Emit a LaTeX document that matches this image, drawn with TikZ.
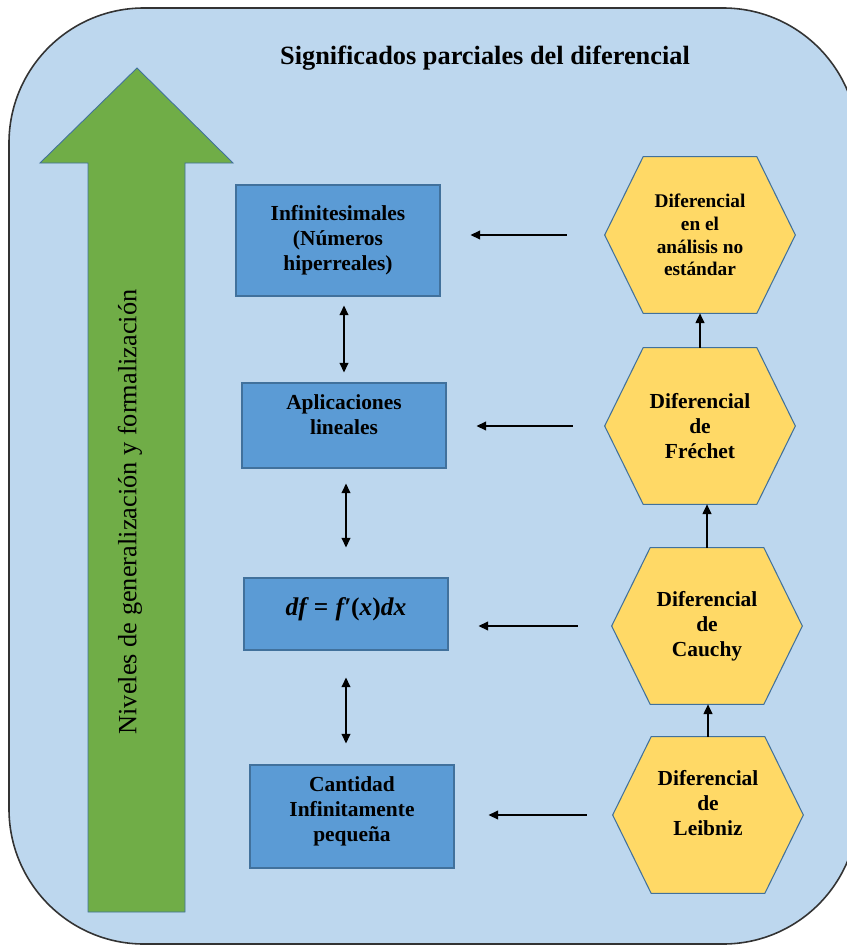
\documentclass[tikz,border=0pt]{standalone}
\usepackage{fontspec}
\setmainfont{Liberation Serif}
\usetikzlibrary{arrows.meta,backgrounds}
\definecolor{fondo}{HTML}{BDD7EE}
\definecolor{caja}{HTML}{5B9BD5}
\definecolor{cajaborde}{HTML}{41719C}
\definecolor{hexa}{HTML}{FFD966}
\definecolor{verde}{HTML}{70AD47}
\tikzset{
  cajanode/.style={rectangle, fill=caja, draw=cajaborde, line width=0.6pt, minimum width=4.08cm, inner sep=0pt, align=center, font=\bfseries\fontsize{12.2}{14.2}\selectfont},
  hexnode/.style={rectangle, minimum width=3.8cm, minimum height=3.12cm, inner sep=0pt, align=center, font=\bfseries\fontsize{12.2}{14.2}\selectfont},
  hexline/.style={fill=hexa, draw=cajaborde, line width=0.6pt},
  flecha/.style={-{Triangle[length=5.5pt,width=5pt]}, line width=0.85pt},
  dflecha/.style={{Triangle[length=5.5pt,width=5pt]}-{Triangle[length=5.5pt,width=5pt]}, line width=0.85pt},
}
\begin{document}
\begin{tikzpicture}[x=0.02cm, y=-0.02cm]
\useasboundingbox (0,0) rectangle (846,946);
\begin{scope}[on background layer]
\draw[fill=fondo, draw=black!80, line width=0.9pt, rounded corners=2.7cm] (9,8) rectangle (858,944);
\end{scope}
\node[font=\bfseries\fontsize{15}{18}\selectfont] (titulo) at (485,58) {Significados parciales del diferencial};
% flecha verde
\filldraw[fill=verde, draw=cajaborde, line width=0.5pt] (137,68) -- (233,163) -- (185,163) -- (185,912) -- (88,912) -- (88,163) -- (40,163) -- cycle;
\node[rotate=90, font=\fontsize{15}{18}\selectfont] (niveles) at (130,512) {Niveles de generalización y formalización};
% cajas
\node[cajanode, minimum height=2.22cm] (cajaA) at (338,240.5) {Infinitesimales\\(Números\\hiperreales)};
\node[cajanode, minimum height=1.7cm, text depth=0.42cm] (cajaB) at (344,425.5) {Aplicaciones\\lineales};
\node[cajanode, minimum height=1.44cm, text depth=0.3cm, font=\bfseries\fontsize{14.5}{16}\selectfont] (cajaC) at (346,614) {\itshape df\;{\upshape =}\;f′{\upshape (}x{\upshape )}dx};
\node[cajanode, minimum height=2.06cm, text depth=0.3cm] (cajaD) at (352,816.5) {Cantidad\\Infinitamente\\pequeña};
% hexagonos
\node[hexnode, font=\bfseries\fontsize{11}{13}\selectfont] (hexA) at (700,235) {Diferencial\\en el\\análisis no\\estándar};
\node[hexnode] (hexB) at (700,426) {Diferencial\\de\\Fréchet};
\node[hexnode] (hexC) at (707,626) {Diferencial\\de\\Cauchy};
\node[hexnode, text depth=0.5cm] (hexD) at (708,815) {Diferencial\\de\\Leibniz};
\begin{scope}[on background layer]
\foreach \h in {hexA,hexB,hexC,hexD}
  \filldraw[hexline] (\h.west) -- ([xshift=0.77cm]\h.north west) -- ([xshift=-0.77cm]\h.north east) -- (\h.east) -- ([xshift=-0.77cm]\h.south east) -- ([xshift=0.77cm]\h.south west) -- cycle;
\end{scope}
% flechas
\draw[flecha, shorten <=0.76cm, shorten >=0.6cm] (hexA.west) -- (hexA.west -| cajaA.east);
\draw[flecha, shorten <=0.64cm, shorten >=0.6cm] (hexB.west) -- (hexB.west -| cajaB.east);
\draw[flecha, shorten <=0.68cm, shorten >=0.6cm] (hexC.west) -- (hexC.west -| cajaC.east);
\draw[flecha, shorten <=0.52cm, shorten >=0.68cm] (hexD.west) -- (hexD.west -| cajaD.east);
\draw[dflecha, shorten <=0.18cm, shorten >=0.2cm] (cajaA.south -| cajaB.north) -- (cajaB.north);
\draw[dflecha, shorten <=0.3cm, shorten >=0.6cm] (cajaB.south -| cajaC.north) -- (cajaC.north);
\draw[dflecha, shorten <=0.54cm, shorten >=0.42cm] (cajaC.south) -- (cajaC.south |- cajaD.north);
\draw[flecha] (hexB.north) -- (hexA.south);
\draw[flecha] (hexC.north) -- (hexC.north |- hexB.south);
\draw[flecha] (hexD.north) -- (hexD.north |- hexC.south);
\end{tikzpicture}
\end{document}
